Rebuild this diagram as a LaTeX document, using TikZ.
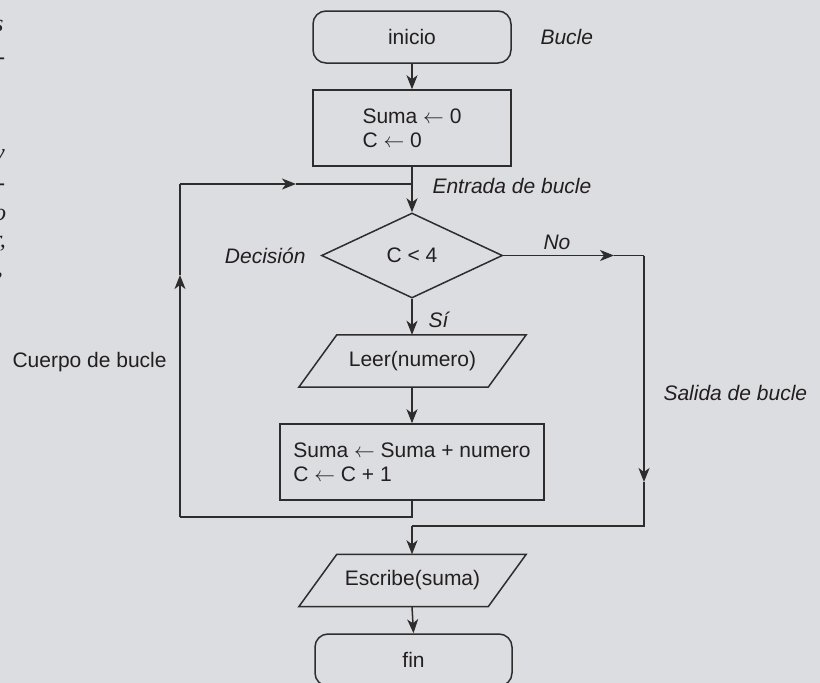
\documentclass[tikz,border=0pt]{standalone}
\usepackage{fontspec}
\setmainfont{Liberation Sans}
\newfontfamily\serifit{Liberation Serif}
\usetikzlibrary{shapes.geometric,arrows.meta}
\definecolor{bg}{HTML}{DCDDE0}
\definecolor{ink}{HTML}{231F20}
\definecolor{linec}{HTML}{2E2C2D}
\tikzset{
  base/.style={font=\fontsize{21}{24}\selectfont, text=ink},
  lbl/.style={base, font=\fontsize{21}{24}\selectfont\itshape},
  termbox/.style={base, draw=linec, line width=1.5pt, rounded corners=13pt, minimum width=198pt, minimum height=52pt, inner sep=0pt},
  procbox/.style={base, draw=linec, line width=1.5pt, align=left, minimum height=76pt, inner sep=0pt},
  decbox/.style={base, draw=linec, line width=1.5pt, diamond, minimum width=181pt, minimum height=85pt, inner sep=0pt},
  iotext/.style={base, minimum width=189pt, minimum height=52pt, inner sep=0pt},
  conn/.style={draw=linec, line width=1.5pt},
  arr/.style={conn, -{Stealth[length=14pt,width=11pt,inset=4pt]}},
  frag/.style={text=ink, font=\fontsize{24}{28}\selectfont\serifit\itshape, anchor=base west, inner sep=0pt}
}
\begin{document}
\begin{tikzpicture}[x=1pt,y=-1pt]
\fill[bg] (0,0) rectangle (820,683);
\useasboundingbox (0,0) rectangle (820,683);

% cut-off page text at left margin
\node[frag] (f1) at (-6,31) {s};
\node[frag] (f2) at (-3,64) {-};
\node[frag] (f3) at (-6,160) {y};
\node[frag] (f4) at (-3,190) {-};
\node[frag] (f5) at (-6,220) {o};
\node[frag] (f6) at (-7,247) {r,};
\node[frag] (f7) at (-3,275) {,};

% nodes
\node[termbox] (inicio) at (412,37) {inicio};
\node[procbox, minimum width=198pt] (init) at (412,128) {Suma $\leftarrow$ 0\\C $\leftarrow$ 0};
\node[decbox] (dec) at (412,255.5) {C < 4};
\node[iotext] (leer) at (412.5,361) {Leer(numero)};
\node[procbox, minimum width=264pt] (body) at (412,462) {Suma $\leftarrow$ Suma + numero\\C $\leftarrow$ C + 1};
\node[iotext] (escr) at (412.5,580.5) {Escribe(suma)};
\node[termbox, minimum width=197pt] (fin) at (413.5,660) {fin};

% parallelogram outlines
\draw[conn] ([xshift=19pt]leer.north west) -- ([xshift=19pt]leer.north east) -- ([xshift=-19pt]leer.south east) -- ([xshift=-19pt]leer.south west) -- cycle;
\draw[conn] ([xshift=19pt]escr.north west) -- ([xshift=19pt]escr.north east) -- ([xshift=-19pt]escr.south east) -- ([xshift=-19pt]escr.south west) -- cycle;

% labels
\node[lbl, anchor=west] (bucle) at (537,37) {Bucle};
\node[lbl, anchor=west] (entrada) at (429,186) {Entrada de bucle};
\node[lbl, anchor=east] (decision) at (309,256) {Decisión};
\node[lbl] (no) at (557,242) {No};
\node[lbl, anchor=west] (si) at (425,320) {Sí};
\node[base, anchor=west] (cuerpo) at (9,362) {Cuerpo de bucle};
\node[lbl, anchor=west] (salida) at (660,393) {Salida de bucle};

% coordinates
\coordinate (join) at (412,184);
\coordinate (lb) at (180,517);
\coordinate (lup) at (180,275);
\coordinate (lt) at (180,184);
\coordinate (ltip) at (296,184);
\coordinate (rtip) at (614,255.5);
\coordinate (rc) at (644,255.5);
\coordinate (rdtip) at (644,482);
\coordinate (rb) at (644,526);
\coordinate (mj) at (412,526);

% connectors
\draw[arr] (inicio.south) -- (init.north);
\draw[arr] (init.south) -- (dec.north);
\draw[arr] (dec.south) -- ([xshift=-0.5pt]leer.north);
\draw[arr] ([xshift=-0.5pt]leer.south) -- (body.north);
\draw[conn] (body.south) |- (lb);
\draw[arr] (lb) -- (lup);
\draw[conn] (lup) -- (lt);
\draw[arr] (lt) -- (ltip);
\draw[conn] (ltip) -- (join);
\draw[arr] (dec.east) -- (rtip);
\draw[conn] (rtip) -- (rc);
\draw[arr] (rc) -- (rdtip);
\draw[conn] (rdtip) -- (rb) -- (mj);
\draw[arr] (mj) -- ([xshift=-0.5pt]escr.north);
\draw[arr] ([xshift=-0.5pt]escr.south) -- (fin.north);
\end{tikzpicture}
\end{document}
